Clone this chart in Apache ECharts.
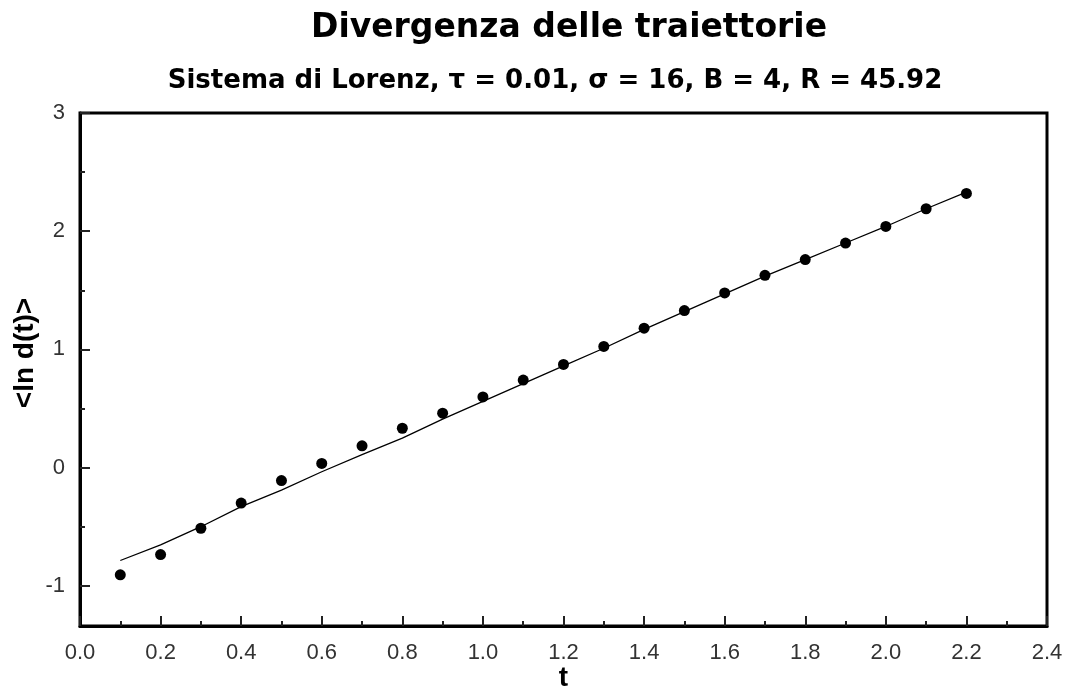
<!DOCTYPE html>
<html>
<head>
<meta charset="utf-8">
<script src="https://cdn.jsdelivr.net/npm/echarts@6/dist/echarts.min.js"></script>
<style>html,body{margin:0;padding:0;background:#fff}#c{width:1069px;height:688px}</style>
</head>
<body>
<div id="c"></div>
<script>
const tValues = [0.1,0.2,0.3,0.4,0.5,0.6,0.7,0.8,0.9,1.0,1.1,1.2,1.3,1.4,1.5,1.6,1.7,1.8,1.9,2.0,2.1,2.2];
const dotValues = [-0.907,-0.736,-0.513,-0.30,-0.11,0.035,0.184,0.333,0.46,0.598,0.741,0.873,1.025,1.18,1.329,1.478,1.627,1.76,1.90,2.04,2.19,2.32];
const lineValues = [-0.786,-0.654,-0.50,-0.33,-0.19,-0.035,0.11,0.25,0.41,0.56,0.71,0.86,1.01,1.17,1.32,1.47,1.62,1.76,1.90,2.04,2.19,2.33];
const yMajorTicks = [-1,0,1,2,3];
const yMinorTicks = [-0.5,0.5,1.5,2.5];
const titleText = 'Divergenza delle traiettorie';
const subtitleText = 'Sistema di Lorenz, \u03c4 = 0.01, \u03c3 = 16, B = 4, R = 45.92';

const font = 'Liberation Sans, Arial, sans-serif';
const wideFont = 'DejaVu Sans, Liberation Sans, sans-serif';
const chart = echarts.init(document.getElementById('c'));
const yMin = -1.34, yMax = 3;
chart.setOption({
  animation: false,
  backgroundColor: '#fff',
  title: [
    {text: titleText, left: 564, textAlign: 'center', top: 7,
     textStyle: {fontFamily: wideFont, fontSize: 33, fontWeight: 'bold', color: '#000'}},
    {text: subtitleText, left: 550, textAlign: 'center', top: 63,
     textStyle: {fontFamily: wideFont, fontSize: 26, fontWeight: 'bold', color: '#000'}}
  ],
  grid: {left: 80, right: 22, top: 113, bottom: 62, containLabel: false, outerBoundsMode: 'none',
         show: true, borderColor: '#000', borderWidth: 3, backgroundColor: 'transparent'},
  xAxis: [{
    type: 'value', min: 0, max: 2.4, interval: 0.2,
    name: 't', nameLocation: 'middle', nameGap: 38, nameMoveOverlap: false,
    nameTextStyle: {fontFamily: font, fontSize: 28, fontWeight: 'bold', color: '#000'},
    axisLine: {show: true, onZero: false, lineStyle: {color: '#000', width: 3}},
    axisTick: {show: true, inside: true, length: 10, lineStyle: {color: '#222', width: 2}},
    minorTick: {show: true, splitNumber: 2, length: 5, lineStyle: {color: '#222', width: 2}},
    splitLine: {show: false},
    axisLabel: {fontFamily: font, fontSize: 22, color: '#333', margin: 16, formatter: v => v.toFixed(1)}
  }],
  yAxis: [{
    type: 'value', min: yMin, max: yMax,
    name: '<ln d(t)>', nameLocation: 'middle', nameGap: 41, nameMoveOverlap: false,
    nameTextStyle: {fontFamily: font, fontSize: 28, fontWeight: 'bold', color: '#000', padding: [0, 0, 0, 33]},
    axisLine: {show: true, onZero: false, lineStyle: {color: '#000', width: 3}},
    axisTick: {show: true, inside: true, length: 10, customValues: yMajorTicks, lineStyle: {color: '#222', width: 2}},
    splitLine: {show: false},
    axisLabel: {fontFamily: font, fontSize: 22, color: '#333', margin: 15, customValues: yMajorTicks}
  }, {
    type: 'value', min: yMin, max: yMax, position: 'left',
    axisLine: {show: false, onZero: false},
    axisTick: {show: true, inside: true, length: 5, customValues: yMinorTicks, lineStyle: {color: '#222', width: 2}},
    splitLine: {show: false},
    axisLabel: {show: false}
  }],
  series: [{
    type: 'line', xAxisIndex: 0, yAxisIndex: 0,
    data: tValues.map((t, i) => [t, lineValues[i]]),
    showSymbol: false, symbol: 'none',
    lineStyle: {color: '#000', width: 1.3}, z: 2
  }, {
    type: 'scatter', xAxisIndex: 0, yAxisIndex: 0,
    data: tValues.map((t, i) => [t, dotValues[i]]),
    symbol: 'circle', symbolSize: 11,
    itemStyle: {color: '#000', opacity: 1}, z: 3
  }]
});
</script>
</body>
</html>
